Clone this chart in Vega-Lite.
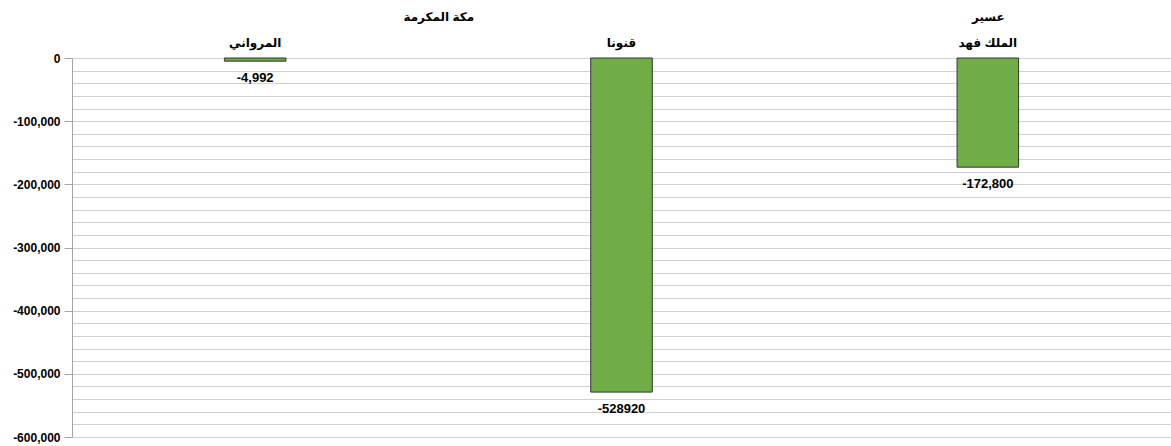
{
  "$schema": "https://vega.github.io/schema/vega-lite/v6.json",
  "width": 1099,
  "height": 379,
  "autosize": "none",
  "padding": {"left": 72, "top": 58, "right": 0, "bottom": 9},
  "background": "white",
  "config": {
    "view": {"stroke": null},
    "font": "Liberation Sans, DejaVu Sans",
    "axis": {"labelFont": "Liberation Sans, DejaVu Sans", "labelFontWeight": "bold", "labelFontSize": 12, "labelColor": "#000000", "title": null}
  },
  "datasets": {
    "bars": [
      {"group": "مكة المكرمة", "site": "المرواني", "value": -4992, "label": "-4,992"},
      {"group": "مكة المكرمة", "site": "قنونا", "value": -528920, "label": "-528920"},
      {"group": "عسير", "site": "الملك فهد", "value": -172800, "label": "-172,800"}
    ],
    "groups": [
      {"group": "مكة المكرمة", "pos": 1},
      {"group": "عسير", "pos": 2.5}
    ]
  },
  "layer": [
    {
      "data": {"name": "bars"},
      "layer": [
        {
          "mark": {"type": "bar", "color": "#70AD47", "stroke": "#333333", "strokeWidth": 1},
          "encoding": {
            "x": {
              "field": "site", "type": "nominal",
              "sort": ["المرواني", "قنونا", "الملك فهد"],
              "scale": {"paddingInner": 0.832, "paddingOuter": 0.416},
              "axis": {"orient": "top", "domain": false, "ticks": false, "tickSize": 0, "labelPadding": 9, "labelAngle": 0, "grid": false, "labelFontSize": 12}
            },
            "y": {
              "field": "value", "type": "quantitative",
              "scale": {"domain": [-600000, 0], "nice": false, "zero": true},
              "axis": {
                "values": [0, -20000, -40000, -60000, -80000, -100000, -120000, -140000, -160000, -180000, -200000, -220000, -240000, -260000, -280000, -300000, -320000, -340000, -360000, -380000, -400000, -420000, -440000, -460000, -480000, -500000, -520000, -540000, -560000, -580000, -600000],
                "tickCount": 100,
                "labelOverlap": false,
                "labelExpr": "datum.value % 100000 === 0 ? replace(format(datum.value, ','), '\u2212', '-') : ''",
                "grid": true,
                "gridColor": "#d0d0d0",
                "gridWidth": 1,
                "domain": true,
                "domainColor": "#a6a6a6",
                "tickSize": 8,
                "tickColor": {"condition": {"test": "datum.value % 100000 === 0", "value": "#a6a6a6"}, "value": "transparent"},
                "labelPadding": 4
              }
            }
          }
        },
        {
          "mark": {"type": "text", "baseline": "middle", "dy": 17, "fontWeight": "bold", "fontSize": 13, "font": "Liberation Sans", "color": "#000000"},
          "encoding": {
            "x": {"field": "site", "type": "nominal", "sort": ["المرواني", "قنونا", "الملك فهد"]},
            "y": {"field": "value", "type": "quantitative"},
            "text": {"field": "label"}
          }
        }
      ]
    },
    {
      "data": {"name": "groups"},
      "mark": {"type": "text", "opacity": 0},
      "encoding": {
        "x": {
          "field": "pos", "type": "quantitative",
          "scale": {"domain": [0, 3], "nice": false, "zero": true},
          "axis": {"orient": "top", "values": [1, 2.5], "labelExpr": "datum.value === 1 ? 'مكة المكرمة' : 'عسير'", "domain": false, "ticks": false, "tickSize": 0, "grid": false, "offset": 26, "labelPadding": 9, "labelFontSize": 12}
        },
        "text": {"field": "group"}
      }
    }
  ],
  "resolve": {"scale": {"x": "independent"}, "axis": {"x": "independent"}}
}
